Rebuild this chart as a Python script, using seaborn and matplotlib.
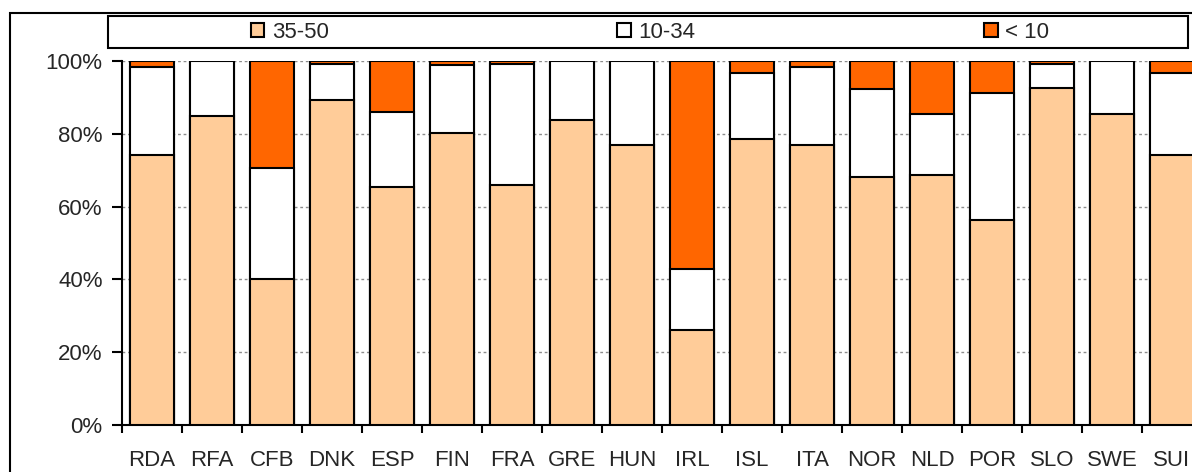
import matplotlib
matplotlib.use("Agg")
import matplotlib.pyplot as plt
from matplotlib.patches import Patch, Rectangle
from matplotlib.ticker import PercentFormatter, FixedLocator
import seaborn as sns
import pandas as pd
import numpy as np

countries = ["RDA", "RFA", "CFB", "DNK", "ESP", "FIN", "FRA", "GRE", "HUN",
             "IRL", "ISL", "ITA", "NOR", "NLD", "POR", "SLO", "SWE", "SUI"]
# share of each group, in percent
share_35_50 = [74.3, 84.9, 40.0, 89.4, 65.4, 80.2, 65.8, 83.8, 77.0,
               26.1, 78.7, 77.0, 68.1, 68.6, 56.3, 92.7, 85.4, 74.3]
share_10_34 = [24.1, 15.1, 30.5, 9.9, 20.7, 18.7, 33.5, 16.2, 23.0,
               16.8, 17.9, 21.3, 24.1, 16.9, 34.8, 6.6, 14.6, 22.3]
share_lt10 = [1.6, 0.0, 29.5, 0.7, 13.9, 1.1, 0.7, 0.0, 0.0,
              57.1, 3.4, 1.7, 7.8, 14.5, 8.9, 0.7, 0.0, 3.4]
labels = ["35-50", "10-34", "< 10"]
colors = ["#FFCC99", "#FFFFFF", "#FF6600"]

df = pd.DataFrame({"pays": countries, "a": share_35_50, "b": share_10_34, "c": share_lt10})
df["ab"] = df["a"] + df["b"]
df["abc"] = df["ab"] + df["c"]

sns.set_style("white")
plt.rcParams["font.family"] = ["Liberation Sans", "DejaVu Sans"]

W, H = 1192, 472
fig = plt.figure(figsize=(W / 100, H / 100), dpi=100)
# plot area is cut off at the right, like the original screenshot
ax = fig.add_axes([122 / W, (H - 425) / H, 1080 / W, 364 / H])

# stacked bars: draw cumulative heights from top to bottom
for col, c in zip(["abc", "ab", "a"], [colors[2], colors[1], colors[0]]):
    sns.barplot(data=df, x="pays", y=col, color=c, edgecolor="black",
                linewidth=1.5, width=0.72, saturation=1, ax=ax, zorder=3)

ax.set_xlim(-0.5, 17.5)
ax.set_ylim(0, 100)
ax.set_yticks(np.arange(0, 101, 20))
ax.yaxis.set_major_formatter(PercentFormatter(decimals=0))
ax.set_xlabel("")
ax.set_ylabel("")
ax.grid(axis="y", color="0.55", linestyle=(0, (2, 2)), linewidth=1, zorder=0)
ax.grid(axis="x", visible=False)
ax.set_axisbelow(True)

for s in ["top", "right"]:
    ax.spines[s].set_visible(False)
for s in ["left", "bottom"]:
    ax.spines[s].set_color("black")
    ax.spines[s].set_linewidth(1.5)

ax.tick_params(axis="y", direction="out", length=7, width=1.5, pad=7,
               labelsize=16, color="black", left=True)
ax.tick_params(axis="x", which="major", length=0, pad=18, labelsize=16)
ax.xaxis.set_minor_locator(FixedLocator(np.arange(-0.5, 18, 1)))
ax.tick_params(axis="x", which="minor", direction="out", length=6, width=1.5,
               color="black", bottom=True)

# outer chart frame
fig.patches.append(Rectangle((10 / W, -0.2), 1.2, 0.2 + (H - 13) / H,
                             transform=fig.transFigure, fill=False,
                             edgecolor="black", linewidth=1.5))
# legend box
fig.patches.append(Rectangle((108 / W, (H - 48) / H), 1080 / W, 32 / H,
                             transform=fig.transFigure, facecolor="white",
                             edgecolor="black", linewidth=1.5))
handles = [Patch(facecolor=c, edgecolor="black", linewidth=1.5) for c in colors]
fig.legend(handles, labels, loc="center", ncol=3, frameon=False,
           bbox_to_anchor=(650 / W, (H - 32) / H), fontsize=16,
           handlelength=0.6, handleheight=0.6, handletextpad=0.35,
           columnspacing=13.0, borderpad=0)

fig.savefig("out.png", dpi=100)
